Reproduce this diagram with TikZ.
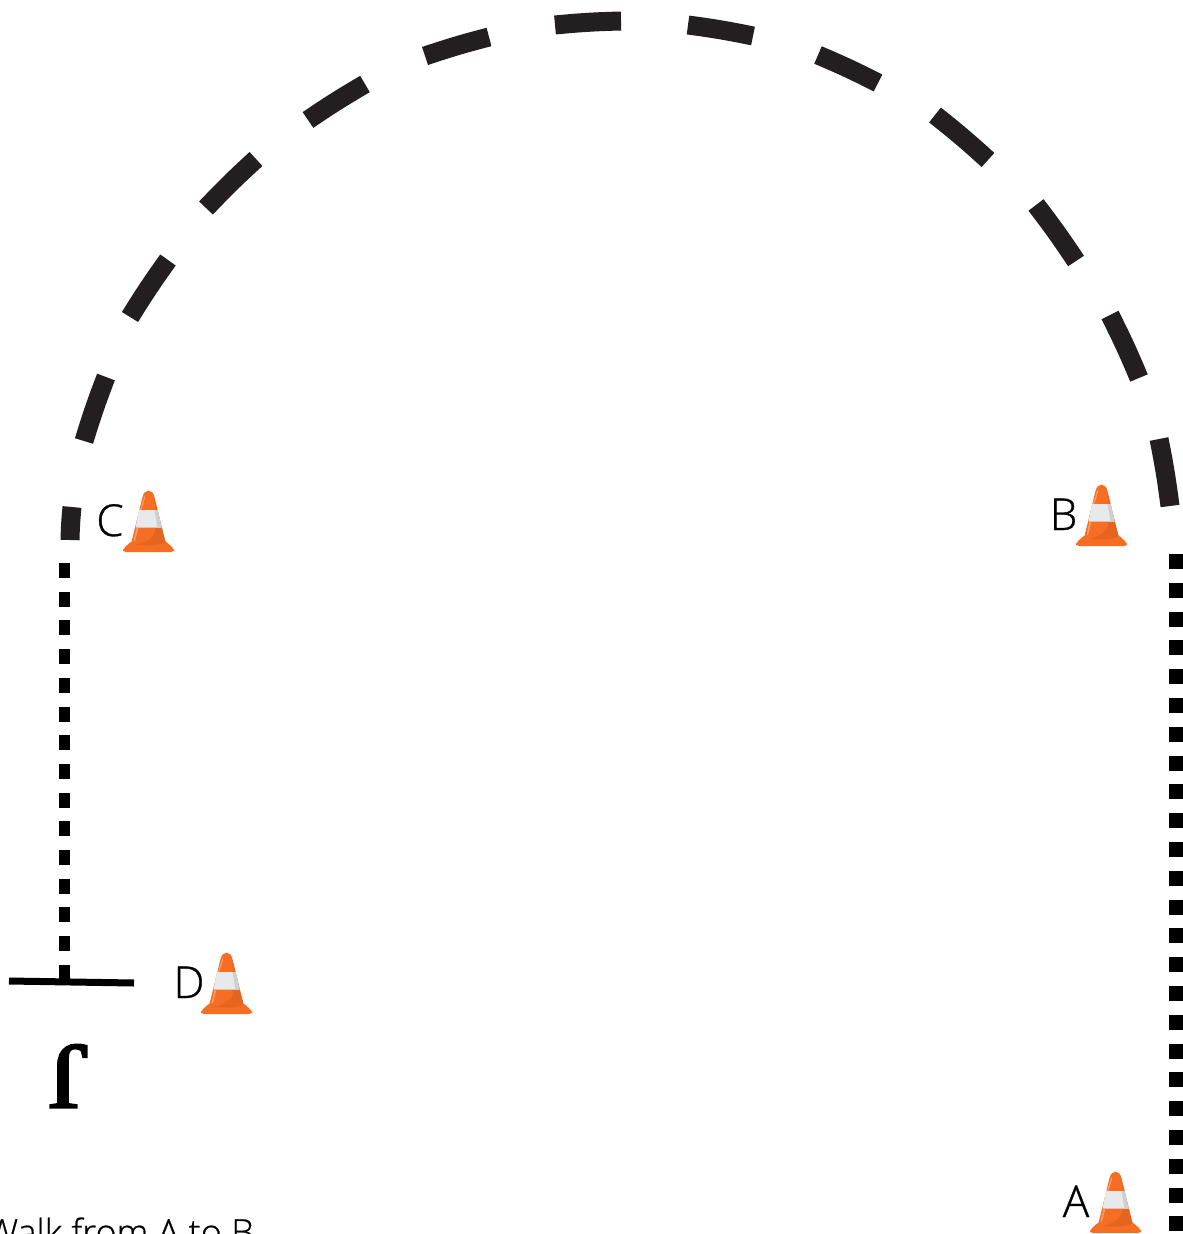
\documentclass[tikz,border=0pt]{standalone}
\usepackage{fontspec}
\setmainfont{Open Sans}
\newfontfamily\conefont[RawFeature={embolden=0.7}]{Open Sans Light}
\newfontfamily\serifj[RawFeature={embolden=2}]{Liberation Serif}
\definecolor{arcblack}{HTML}{231F20}
\definecolor{coneorange}{HTML}{F56E23}
\definecolor{conedark}{HTML}{E5641F}
\definecolor{coneband}{HTML}{E7EAEA}
\definecolor{conegrey}{HTML}{CDD0D0}
\definecolor{conered}{HTML}{DC3F2B}
\definecolor{conelight}{HTML}{FB9C63}
\tikzset{
    arcdash/.style={draw=arcblack, line width=19pt},
    dotwide/.style={draw=black, line width=14pt, dash pattern=on 15pt off 13.8pt},
    dotthin/.style={draw=black, line width=11pt, dash pattern=on 15pt off 13.7pt},
    conelabel/.style={anchor=base, inner sep=0pt, font=\conefont\fontsize{44}{52}\selectfont},
    pics/trafficcone/.style={code={
        % base and body
        \fill[coneorange, rounded corners=3pt] (-25.5,0) -- (-25.5,-3) -- (-17,-11) -- (17,-11) -- (25.5,-3) -- (25.5,0) -- cycle;
        \fill[coneorange] (-17,-10) -- (-6,-55) .. controls (-4,-63.5) and (4,-63.5) .. (6,-55) -- (17,-10) -- cycle;
        % shade
        \fill[conedark] (-15,-8) .. controls (-4,-5) and (15,-7) .. (17,-10) -- (13,-24) -- (7,-24) .. controls (7,-12) and (-8,-7) .. (-15,-8) -- cycle;
        \fill[conered] (5,-53) -- (8,-42) -- (7.5,-42) .. controls (7,-47) and (6,-50) .. (5,-53) -- cycle;
        % band
        \fill[coneband] (-9.5,-42) -- (9,-42) -- (13,-24.5) -- (-13,-24.5) -- cycle;
        \fill[conegrey] (6,-42) -- (9,-42) -- (13,-24.5) -- (9,-24.5) -- cycle;
        % highlights
        \fill[conelight] (-4.5,-55) .. controls (-4,-57) and (-3,-56) .. (-3.5,-54) -- (-7,-42) -- (-8.5,-42) -- cycle;
        \fill[conelight] (-12,-24.5) -- (-10,-24.5) -- (-13.5,-11) -- (-15,-11) -- cycle;
    }}
}
\begin{document}
\begin{tikzpicture}[x=1pt, y=-1pt]
\useasboundingbox (0,0) rectangle (1183,1234);
\clip (0,0) rectangle (1183,1234);
\begin{scope}
    % Define nodes
    \draw (1176,554) coordinate (R1);
    \draw (1176,1240) coordinate (R2);
    \draw (64.5,563) coordinate (L1);
    \draw (64.5,982) coordinate (L2);
    \draw (9,981) coordinate (T1);
    \draw (134,983) coordinate (T2);

    % Long arc
    \foreach \xa/\ya/\xb/\yb in {1170/506/1159/439, 1139/378/1110/315, 1076/261/1036/205,
        988/160/935/115, 878/83/818/55, 753/36/688/25, 621/21/555/25, 489/37/425/56,
        365/84/308/120, 256/159/206/208, 168/260/130/317, 106/377/84/441, 72/507/70/540}
        \draw[arcdash] (\xa,\ya) to[bend right=2] (\xb,\yb);

    % Straight parts
    \draw[dotwide] (R1) -- (R2);
    \draw[dotthin] (L1) -- (L2);
    \draw[black, line width=7pt] (T1) -- (T2);

    % Cones
    \pic at (148.5,552) {trafficcone};
    \pic at (1101.5,546) {trafficcone};
    \pic at (226.5,1014) {trafficcone};
    \pic at (1115.5,1233) {trafficcone};

    \draw (110,536) node[conelabel] (labelC) {C};
    \draw (1063.5,530) node[conelabel] (labelB) {B};
    \draw (189,998) node[conelabel] (labelD) {D};
    \draw (1076,1217) node[conelabel] (labelA) {A};

    \draw (68.5,1076) node[rotate=180, xscale=1.1, inner sep=0pt, font=\serifj\fontsize{95}{95}\selectfont] (startJ) {J};
    \draw (254,1245) node[anchor=base east, inner sep=0pt, font=\conefont\fontsize{36}{42}\selectfont] (walkA) {Walk from A to B};
\end{scope}
\end{tikzpicture}
\end{document}
